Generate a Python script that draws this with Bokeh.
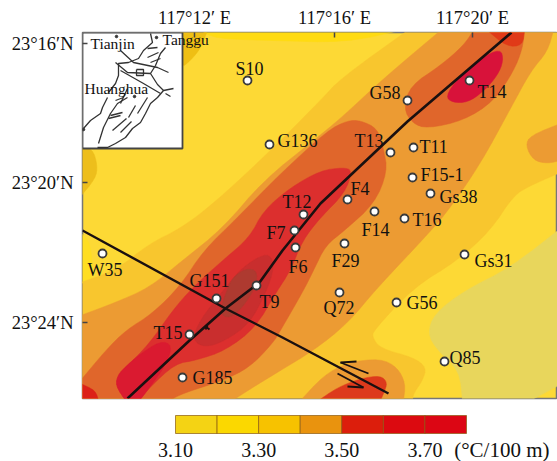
from bokeh.plotting import figure
from bokeh.layouts import column
from bokeh.models import Range1d, FixedTicker
from bokeh.core.properties import value
from bokeh.embed import file_html
from bokeh.resources import INLINE

FONT = "Liberation Serif"

# map units: digitised sheet coordinates
lon_ticks = [194, 334, 472]
lon_labels = ["117°12′ E", "117°16′ E", "117°20′ E"]
lat_ticks = [43, 182, 322]
lat_labels = ["23°16′N", "23°20′N", "23°24′N"]

stations = ["S10", "G136", "G58", "T14", "T13", "T11", "F15-1", "Gs38", "F4", "T12", "F14", "T16", "F7", "F6",
            "F29", "Gs31", "Q72", "G56", "Q85", "T9", "G151", "T15", "G185", "W35"]
station_x = [247, 269, 407, 469, 390, 413, 412, 430, 347, 303, 374, 404, 294, 295, 344, 464, 339, 396, 444, 256, 216, 189, 182, 102]
station_y = [80, 144, 100, 80, 152, 147, 177, 193, 199, 214, 211, 218, 230, 247, 243, 254, 292, 302, 361, 285, 298, 334, 377, 253]
label_x = [235, 277, 369, 477, 354, 419, 420, 439, 350, 282, 361, 412, 266, 288, 331, 474, 323, 406, 449, 259, 189, 153, 192, 87]
label_y = [74, 146, 98, 97, 146, 152, 180, 202, 194, 207, 235, 225, 238, 272, 266, 266, 313, 308, 363, 307, 286, 338, 383, 275]

# contour regions, lowest level first
region_low = [(560, 228), (510, 267), (464, 290), (434, 313), (427, 333), (437, 350), (459, 370), (462, 400), (530, 400), (560, 384)]
strip_top = [(200, 30), (400, 30), (345, 42), (270, 40), (215, 38)]
patch_nw = [(180, 30), (207, 30), (200, 48), (190, 60), (180, 68)]
patch_w = [(80, 148), (92, 148), (97, 165), (95, 178), (80, 196)]
patch_w35 = [(80, 232), (90, 242), (93, 280), (80, 283)]
band_c = [(80, 282), (115, 270), (149, 243), (180, 228), (213, 203), (263, 157), (320, 100), (340, 78), (407, 30), (560, 30),
          (560, 172), (530, 185), (513, 195), (490, 230), (457, 260), (413, 287), (373, 330), (372, 337), (380, 348), (413, 357),
          (426, 367), (422, 380), (413, 393), (412, 400), (80, 400)]
band_d = [(80, 315), (115, 302), (149, 287), (182, 260), (222, 228), (263, 180), (313, 140), (340, 118), (383, 78), (440, 30),
          (553, 30), (547, 51), (530, 71), (510, 108), (480, 163), (450, 207), (429, 232), (377, 287), (347, 323), (313, 350),
          (280, 370), (252, 387), (232, 400), (80, 400)]
blob_d_east = [(560, 123), (530, 135), (525, 145), (533, 160), (547, 163), (560, 160)]
blob_d_south = [(300, 400), (323, 375), (347, 362), (380, 358), (397, 367), (405, 383), (403, 400)]
band_e = [(80, 380), (105, 350), (125, 330), (152, 313), (180, 285), (203, 250), (237, 217), (280, 173), (327, 130), (347, 120),
          (360, 120), (377, 128), (383, 148), (387, 171), (374, 203), (344, 230), (325, 245), (313, 270), (303, 290), (280, 330),
          (272, 343), (249, 367), (222, 380), (182, 393), (169, 400), (80, 400)]
blob_e_north = [(403, 108), (410, 85), (440, 65), (463, 45), (473, 30), (524, 30), (522, 48), (513, 71), (493, 101), (463, 120),
                (427, 128), (412, 123)]
blob_e_tip = [(487, 30), (524, 30), (522, 45), (506, 46)]
blob_e_south = [(318, 400), (337, 387), (360, 378), (380, 375), (387, 382), (383, 393), (380, 400)]
band_f = [(125, 400), (115, 385), (118, 373), (125, 367), (149, 343), (172, 310), (192, 287), (222, 260), (249, 237), (263, 210),
          (290, 187), (320, 170), (343, 167), (352, 170), (344, 193), (320, 217), (302, 240), (290, 270), (275, 293), (255, 327),
          (225, 350), (195, 360), (175, 363), (149, 387), (139, 400)]
blob_g_south = [(125, 400), (115, 385), (118, 373), (135, 357), (160, 340), (172, 345), (165, 365), (149, 387), (139, 400)]
blob_g_north = [(445, 96), (457, 78), (480, 58), (500, 48), (503, 60), (497, 75), (483, 91), (467, 102), (452, 102)]
corner_sw = [(80, 383), (95, 390), (98, 400), (80, 400)]
core_outer = [(192, 340), (199, 320), (225, 287), (239, 270), (255, 258), (269, 253), (274, 267), (265, 293), (249, 323), (225, 340), (205, 347)]
core_inner = [(219, 313), (225, 293), (232, 277), (245, 268), (257, 270), (255, 287), (242, 307), (229, 318)]

regions = [
    (region_low, "#E8D65C"), (strip_top, "#FFDB12"), (patch_nw, "#EFBF14"), (patch_w, "#EDBE1C"), (patch_w35, "#FFDE22"),
    (band_c, "#F8C62E"), (band_d, "#EC9B33"), (blob_d_east, "#EC9B33"), (blob_d_south, "#EC9B33"),
    (band_e, "#E0662B"), (blob_e_north, "#E0662B"), (blob_e_tip, "#E03A18"), (blob_e_south, "#DD3A1C"),
    (band_f, "#DC2F2E"), (blob_g_south, "#DA1A30"), (blob_g_north, "#D8123A"), (corner_sw, "#DC2018"),
    (core_outer, "#C92E2E"), (core_inner, "#AE3A30"),
]


def rounded(points, passes=2):
    """Round the corners of a contour outline; vertices on or past the frame stay put."""
    for _ in range(passes):
        out = []
        n = len(points)
        for i, (x, y) in enumerate(points):
            if x <= 80 or x >= 560 or y <= 30 or y >= 400:
                out.append((x, y))
                continue
            px, py = points[i - 1]
            nx, ny = points[(i + 1) % n]
            out.append((x + (px - x) / 4, y + (py - y) / 4))
            out.append((x + (nx - x) / 4, y + (ny - y) / 4))
        points = out
    return points


fault_ne = [(511, 32), (407, 121), (320, 203), (282, 250), (259, 282), (225, 308), (189, 340), (127, 398)]
fault_nw = [(82, 230), (225, 308), (282, 337), (388, 393)]
shear_marks = [
    [(340, 362), (368, 373)], [(340, 362), (356, 361)],
    [(337, 373), (363, 387)], [(347, 386), (363, 387)],
    [(205, 326), (209, 329)], [(207, 325), (205, 329)],
]

inset_strokes = [
    [(150, 33), (152, 42), (143, 50), (138, 58), (128, 62), (118, 63), (118, 75), (115, 83), (108, 92)],
    [(83, 128), (90, 120), (100, 113), (102, 107), (107, 97)],
    [(173, 88), (163, 90), (157, 97), (150, 103), (145, 113), (140, 122), (132, 128), (125, 137), (115, 143), (107, 147), (97, 147)],
    [(127, 97), (117, 103), (110, 113), (103, 127), (98, 143)],
    [(165, 47), (160, 53), (155, 65), (150, 73), (157, 84), (163, 90)],
    [(120, 50), (133, 62), (157, 67), (168, 72)],
    [(115, 62), (127, 72), (150, 73)],
    [(120, 70), (143, 83), (160, 93)],
    [(136, 69), (143, 69), (143, 75), (136, 75), (136, 69)],
    [(147, 48), (157, 47)], [(147, 57), (158, 52)], [(150, 62), (160, 58)],
    [(127, 88), (120, 103)], [(110, 115), (122, 112)], [(108, 118), (120, 115)],
    [(135, 105), (128, 117)], [(147, 97), (137, 113)], [(115, 100), (123, 97)],
    [(112, 130), (126, 118)], [(120, 132), (131, 121)], [(165, 93), (170, 96)],
]
inset_dots_x = [116, 134, 156, 83]
inset_dots_y = [36, 96, 37, 129]
inset_place = [("Tianjin", 90, 48), ("Tanggu", 162, 44), ("Huanghua", 84, 93)]

levels = [3.10, 3.20, 3.30, 3.40, 3.50, 3.60, 3.70, 3.80]
level_colors = ["#F4D314", "#FBD800", "#F7C200", "#E9930E", "#DC1E0C", "#DC0A10", "#DC0614"]
level_ticks = [3.10, 3.30, 3.50, 3.70]
level_tick_labels = ["3.10", "3.30", "3.50", "3.70"]
unit_text = "(°C/100 m)"

p = figure(width=557, height=400, output_backend="svg", toolbar_location=None,
           x_range=Range1d(82, 557), y_range=Range1d(398, 32),
           x_axis_location="above", y_axis_location="left",
           min_border_left=82, min_border_right=0, min_border_top=32, min_border_bottom=2)
p.grid.visible = False
p.background_fill_color = "#FDD935"
p.outline_line_color = "#777777"
p.outline_line_width = 1.5

for ax, ticks, labels, standoff in ((p.xaxis[0], lon_ticks, lon_labels, 5), (p.yaxis[0], lat_ticks, lat_labels, 9)):
    ax.ticker = FixedTicker(ticks=ticks)
    ax.major_label_overrides = dict(zip(ticks, labels))
    ax.axis_line_color = None
    ax.major_tick_in = 5
    ax.major_tick_out = 0
    ax.major_tick_line_color = "#444444"
    ax.major_tick_line_width = 1.5
    ax.minor_tick_line_color = None
    ax.major_label_text_font = FONT
    ax.major_label_text_font_size = "18.5px"
    ax.major_label_text_color = "#111111"
    ax.major_label_standoff = standoff
p.yaxis[0].major_label_orientation = "horizontal"

shapes = [rounded(r) for r, _ in regions]
p.patches([[v[0] for v in s] for s in shapes], [[v[1] for v in s] for s in shapes],
          fill_color=[c for _, c in regions], line_color=[c for _, c in regions], line_width=0.5)

p.quad(left=[82], right=[182], top=[32], bottom=[148], fill_color="white", line_color="#444444", line_width=1.8)
p.multi_line([[v[0] for v in s] for s in inset_strokes], [[v[1] for v in s] for s in inset_strokes],
             line_color="#333333", line_width=1.3)
p.scatter(inset_dots_x, inset_dots_y, size=2.5, marker="circle", fill_color="#333333", line_color="#333333")
p.text([t[1] for t in inset_place], [t[2] - 5 for t in inset_place], text=[t[0] for t in inset_place],
       text_font=value(FONT), text_font_size="15.5px", text_color="#111111", text_baseline="middle", text_align="left")

for path, w in ((fault_ne, 2.6), (fault_nw, 2.4)):
    p.line([v[0] for v in path], [v[1] for v in path], line_color="#1A1010", line_width=w)
p.multi_line([[v[0] for v in s] for s in shear_marks], [[v[1] for v in s] for s in shear_marks],
             line_color="#1A1010", line_width=1.8)

p.scatter(station_x, station_y, size=8, marker="circle", fill_color="white", line_color="#3A3A3A", line_width=1.8)
p.text(label_x, [y - 6 for y in label_y], text=stations, text_font=value(FONT), text_font_size="18px", text_color="#111111",
       text_baseline="middle", text_align="left")

# colour key: x in °C/100 m, y in sheet units
per_unit = (466 - 175) / (levels[-1] - levels[0])
k = figure(width=557, height=61, output_backend="svg", toolbar_location=None,
           x_range=Range1d(levels[0] - (175 - 82) / per_unit, levels[0] + (557 - 175) / per_unit), y_range=Range1d(461, 400),
           x_axis_type=None, y_axis_type=None, min_border=0, min_border_left=82)
k.grid.visible = False
k.outline_line_color = None
k.quad(left=levels[:-1], right=levels[1:], top=415, bottom=433, fill_color=level_colors, line_color="#8A5A10", line_width=1, line_alpha=0.7)
k.text(level_ticks, [449] * len(level_ticks), text=level_tick_labels, text_font=value(FONT), text_font_size="20px",
       text_color="#111111", text_align="center", text_baseline="middle")
k.text([levels[-1] + (549 - 466) / per_unit], [449], text=[unit_text], text_font=value(FONT), text_font_size="21px",
       text_color="#111111", text_align="right", text_baseline="middle")

layout = column(p, k, spacing=0)
open("out.html", "w").write(file_html(layout, INLINE))
